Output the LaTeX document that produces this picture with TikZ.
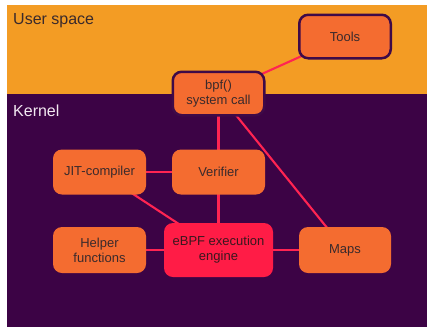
\documentclass[tikz,border=0pt]{standalone}
\usepackage{fontspec}
\setmainfont{Liberation Sans}
\usetikzlibrary{backgrounds}
\definecolor{userbg}{HTML}{F39C24}
\definecolor{kernelbg}{HTML}{3C0345}
\definecolor{boxfill}{HTML}{F46C30}
\definecolor{enginefill}{HTML}{FF1C46}
\definecolor{linkcol}{HTML}{FF2452}
\definecolor{rim}{HTML}{3E0A48}
\definecolor{ink}{HTML}{3A2A2C}
\definecolor{kernelink}{HTML}{F2E8F2}
\tikzset{
  unit/.style={rectangle, rounded corners=9pt, fill=boxfill, text=ink,
    font=\fontsize{13}{15}\selectfont, align=center, inner sep=0pt,
    minimum width=93pt, minimum height=45pt},
  framed/.style={unit, draw=rim, line width=2.5pt,
    minimum width=91.5pt, minimum height=43.5pt},
  core/.style={unit, fill=enginefill, text=ink!80!enginefill!60!black,
    minimum width=109pt, minimum height=54pt},
  link/.style={draw=linkcol, line width=2.1pt},
  region/.style={font=\fontsize{16}{18}\selectfont, anchor=west, inner sep=0pt}
}
\begin{document}
\begin{tikzpicture}[x=1pt,y=-1pt]
\useasboundingbox (0,0) rectangle (427,327);

% boxes
\node[framed] (tools) at (345,36.5) {Tools};
\node[framed] (bpf) at (218.5,93.5) {bpf()\\system call};
\node[unit] (jit) at (99.5,172) {JIT-compiler};
\node[unit] (verifier) at (218.5,172) {Verifier};
\node[unit, minimum height=46pt] (helper) at (99.5,250) {Helper\\functions};
\node[core] (engine) at (218.5,250) {eBPF execution\\engine};
\node[unit, minimum width=92pt, minimum height=46pt] (maps) at (345,250) {Maps};

\begin{pgfonlayer}{background}
  % user space and kernel areas
  \fill[userbg] (7,5) rectangle (427,94);
  \fill[kernelbg] (7,94) rectangle (427,327);
  \node[region, text=ink] (userlabel) at (13,21) {User space};
  \node[region, text=kernelink] (kernellabel) at (13,111) {Kernel};
  % connections
  \draw[link] (tools.center) -- (bpf.center);
  \draw[link] (bpf.center) -- (verifier.center);
  \draw[link] (bpf.center) -- (maps.center);
  \draw[link] (jit.center) -- (verifier.center);
  \draw[link] (jit.center) -- (engine.center);
  \draw[link] (verifier.center) -- (engine.center);
  \draw[link] (helper.center) -- (engine.center);
  \draw[link] (engine.center) -- (maps.center);
\end{pgfonlayer}
\end{tikzpicture}
\end{document}
